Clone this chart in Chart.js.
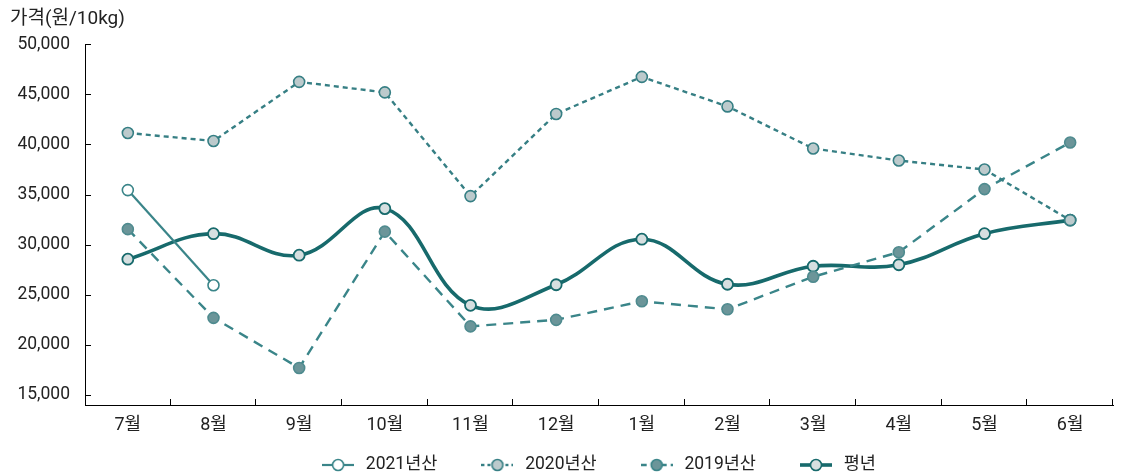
<!DOCTYPE html>
<html lang="ko">
<head>
<meta charset="utf-8">
<title>가격(원/10kg)</title>
<script src="https://cdn.jsdelivr.net/npm/chart.js@4"></script>
<style>
  html, body { margin: 0; padding: 0; background: #fff; }
  #wrap { width: 1121px; height: 475px; position: relative; }
</style>
</head>
<body>
<div id="wrap"><canvas id="chart" width="1121" height="475"></canvas></div>
<script>
// 월별 가격 (원/10kg)
const months = ['7월', '8월', '9월', '10월', '11월', '12월', '1월', '2월', '3월', '4월', '5월', '6월'];
const yTicks = [15000, 20000, 25000, 30000, 35000, 40000, 45000, 50000];

const price2021 = [35450, 25950, null, null, null, null, null, null, null, null, null, null];
const price2020 = [41150, 40350, 46250, 45200, 34850, 43050, 46750, 43800, 39600, 38400, 37500, 32450];
const price2019 = [31550, 22700, 17700, 31300, 21850, 22500, 24350, 23550, 26800, 29250, 35550, 40200];
const priceAvg  = [28550, 31100, 28950, 33600, 23950, 26000, 30550, 26050, 27850, 28000, 31100, 32450];

const seriesNames = ['2021년산', '2020년산', '2019년산', '평년'];

// 범례용 마커: 선 + 원
function legendMarker(color, width, dash, fill) {
  const c = document.createElement('canvas');
  c.width = 32; c.height = 16;
  const g = c.getContext('2d');
  g.strokeStyle = color;
  g.lineWidth = width;
  g.setLineDash(dash);
  g.beginPath(); g.moveTo(0, 8); g.lineTo(32, 8); g.stroke();
  g.setLineDash([]);
  g.lineWidth = 1.6;
  g.fillStyle = fill;
  g.beginPath(); g.arc(16, 8, 5.5, 0, Math.PI * 2); g.fill(); g.stroke();
  return c;
}

const markers = [
  legendMarker('#3a8589', 2.2, [], '#ffffff'),
  legendMarker('#367f84', 2.4, [3, 3], '#bccacc'),
  legendMarker('#3a8589', 2.4, [6, 4], '#6b9599'),
  legendMarker('#176a6c', 3.6, [], '#d6dfe0')
];

// 축 안쪽으로 향하는 눈금
const innerTicks = {
  id: 'innerTicks',
  beforeDatasetsDraw(chart) {
    const { ctx, scales: { x, y } } = chart;
    ctx.save();
    ctx.strokeStyle = '#000';
    ctx.lineWidth = 1;
    ctx.beginPath();
    y.ticks.forEach((t, i) => {
      const py = Math.round(y.getPixelForTick(i)) + 0.5;
      ctx.moveTo(y.right, py);
      ctx.lineTo(y.right + 6, py);
    });
    for (let i = 1; i <= x.ticks.length; i++) {
      const px = Math.round(x.getPixelForValue(i - 0.5)) - 0.5;
      ctx.moveTo(px, x.top);
      ctx.lineTo(px, x.top - 6);
    }
    ctx.stroke();
    ctx.restore();
  }
};

// 범례 위치 조정
const legendPlace = {
  id: 'legendPlace',
  afterLayout(chart) {
    const lg = chart.legend;
    if (!lg) return;
    const pad = lg.options.labels.padding;
    const fs = lg.options.labels.font.size;
    const shift = 36;
    lg.top = 465 - fs / 2 - pad;
    lg.bottom = chart.height;
    lg.height = lg.bottom - lg.top;
    lg.left += shift; lg.right += shift;
  }
};

Chart.defaults.font.family = "Roboto, 'Noto Sans CJK KR', sans-serif";
Chart.defaults.color = '#222';

new Chart(document.getElementById('chart'), {
  type: 'line',
  data: {
    labels: months,
    datasets: [
      {
        label: seriesNames[0], data: price2021,
        borderColor: '#3a8589', borderWidth: 2.2,
        pointRadius: 5.5, pointBorderWidth: 1.6,
        pointBackgroundColor: '#ffffff', pointBorderColor: '#3a8589',
        tension: 0, spanGaps: false
      },
      {
        label: seriesNames[1], data: price2020,
        borderColor: '#367f84', borderWidth: 2.4, borderDash: [5, 4],
        pointRadius: 5.5, pointBorderWidth: 1.6,
        pointBackgroundColor: '#bccacc', pointBorderColor: '#367f84',
        tension: 0
      },
      {
        label: seriesNames[2], data: price2019,
        borderColor: '#3a8589', borderWidth: 2.4, borderDash: [10, 7],
        pointRadius: 5.5, pointBorderWidth: 1.6,
        pointBackgroundColor: '#6b9599', pointBorderColor: '#4f8b8f',
        tension: 0
      },
      {
        label: seriesNames[3], data: priceAvg,
        borderColor: '#176a6c', borderWidth: 3.6,
        pointRadius: 5.5, pointBorderWidth: 1.8,
        pointBackgroundColor: '#d6dfe0', pointBorderColor: '#176a6c',
        tension: 0.4
      }
    ]
  },
  options: {
    responsive: false,
    animation: false,
    events: [],
    layout: { padding: { left: 10, right: 8, top: 0, bottom: 0 } },
    scales: {
      x: {
        offset: true,
        grid: { display: false, offset: true },
        border: { display: true, color: '#000', width: 1 },
        ticks: { font: { size: 18 }, color: '#222', padding: 2, maxRotation: 0, autoSkip: false },
        afterFit(s) { s.height = 35; }
      },
      y: {
        min: 14000, max: 50000,
        grid: { display: false },
        border: { display: true, color: '#000', width: 1 },
        afterBuildTicks(s) { s.ticks = yTicks.map(v => ({ value: v })); },
        ticks: {
          font: { size: 17.5 }, color: '#222', padding: 7,
          callback: v => v.toLocaleString('en-US')
        },
        afterFit(s) { s.width = 75; }
      }
    },
    plugins: {
      tooltip: { enabled: false },
      title: {
        display: true, text: '가격(원/10kg)', align: 'start',
        font: { size: 19, weight: 'normal' }, color: '#222',
        padding: { top: 7.5, bottom: 14 }
      },
      legend: {
        position: 'bottom',
        maxHeight: 35,
        labels: {
          usePointStyle: true, pointStyleWidth: 38, boxHeight: 16,
          padding: 41, font: { size: 17.5 }, color: '#222',
          generateLabels(chart) {
            const items = Chart.defaults.plugins.legend.labels.generateLabels(chart);
            items.forEach((it, i) => { it.pointStyle = markers[i]; it.lineWidth = 0; });
            return items;
          }
        }
      }
    }
  },
  plugins: [innerTicks, legendPlace]
});
</script>
</body>
</html>
